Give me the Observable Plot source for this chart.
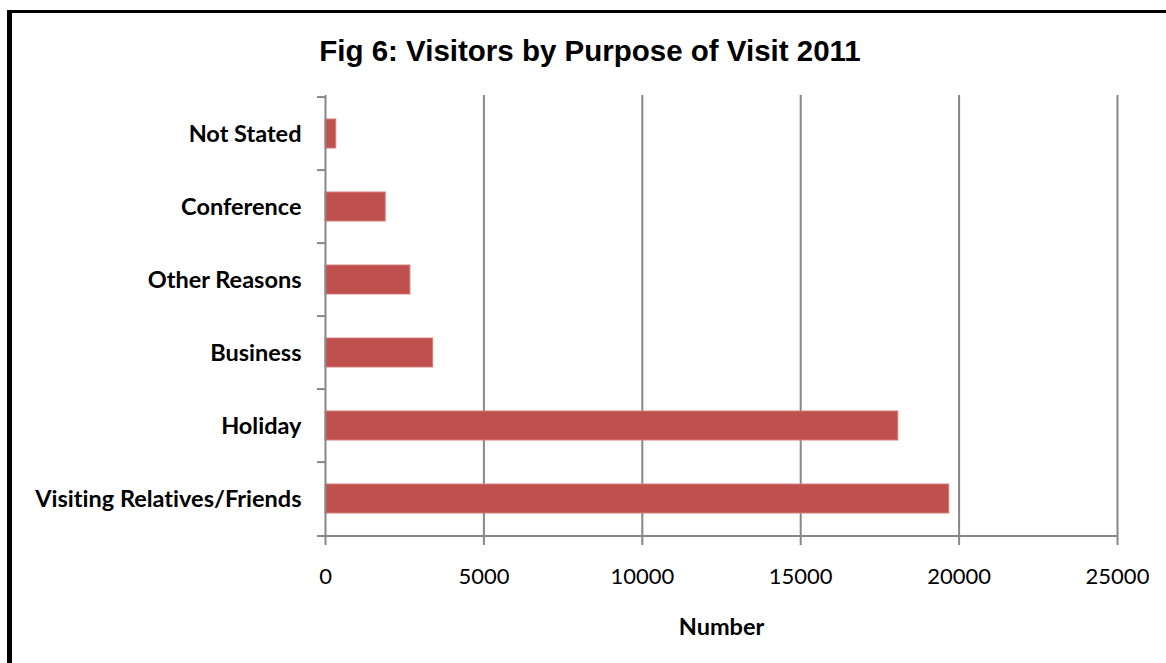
<!DOCTYPE html>
<html><head><meta charset="utf-8">
<script src="https://cdn.jsdelivr.net/npm/d3@7"></script>
<script src="https://cdn.jsdelivr.net/npm/@observablehq/plot@0.6"></script>
<style>
html,body{margin:0;padding:0;background:#fff;overflow:hidden;width:1166px;height:663px}
#wrap{position:relative;width:1166px;height:663px;background:#fff}
#frame{position:absolute;left:7px;top:10px;width:1200px;height:700px;border-left:5px solid #000;border-top:3px solid #000;box-sizing:border-box;z-index:5;pointer-events:none}
#title{position:absolute;left:0;width:1180px;top:36px;text-align:center;font:bold 29.5px "Liberation Sans",Arial,sans-serif;line-height:1;color:#000}
#chart{position:absolute;left:0;top:80px}
#chart svg{overflow:visible;font-variant-ligatures:none;font-feature-settings:"liga" 0}
</style></head>
<body>
<div id="wrap">
  <div id="title"></div>
  <div id="chart"></div>
  <div id="frame"></div>
</div>
<script>
const chartTitle = "Fig 6: Visitors by Purpose of Visit 2011";
const categories = ["Not Stated", "Conference", "Other Reasons", "Business", "Holiday", "Visiting Relatives/Friends"];
const visitors = [340, 1900, 2680, 3400, 18080, 19690];
const xTicks = [0, 5000, 10000, 15000, 20000, 25000];
const xLabel = "Number";

const data = categories.map((c, i) => ({category: c, value: visitors[i]}));

document.getElementById("title").textContent = chartTitle;

const W = 1166, H = 583, mT = 15, mB = 125, mL = 325, mR = 49;
const step = (H - mT - mB) / categories.length;
const tickUnits = 8 * (xTicks[xTicks.length - 1] - xTicks[0]) / (W - mL - mR);
const grey = "#878787";

const chart = Plot.plot({
  width: W, height: H,
  marginTop: mT, marginBottom: mB, marginLeft: mL, marginRight: mR,
  style: {fontFamily: "Lato, 'Open Sans', sans-serif", background: "transparent", color: "#000"},
  x: {domain: [xTicks[0], xTicks[xTicks.length - 1]]},
  y: {domain: categories, paddingInner: 0.6, paddingOuter: 0.3},
  marks: [
    Plot.ruleX(xTicks.slice(1), {stroke: grey, strokeWidth: 2}),
    Plot.barX(data, {x: "value", y: "category", fill: "#C0504D", stroke: "#D47E7B", strokeWidth: 1}),
    Plot.ruleX([xTicks[0]], {stroke: grey, strokeWidth: 2}),
    Plot.ruleY(categories, {y: d => d, dy: -step / 2, x1: -tickUnits, x2: 0, stroke: grey, strokeWidth: 2}),
    Plot.ruleY(categories.slice(-1), {y: d => d, dy: step / 2, x1: -tickUnits, x2: xTicks[xTicks.length - 1], stroke: grey, strokeWidth: 2}),
    Plot.axisX({ticks: xTicks, tickSize: 7, tickPadding: 23, stroke: grey, strokeWidth: 2, fontSize: 22, tickFormat: d => String(d), label: null, fill: "#000"}),
    Plot.axisY({tickSize: 0, tickPadding: 24, fontSize: 23.5, fontWeight: "bold", label: null, fill: "#000"}),
    Plot.text([xLabel], {frameAnchor: "bottom", dy: 96, fontSize: 23.5, fontWeight: "bold", fill: "#000"})
  ]
});
document.getElementById("chart").appendChild(chart);
</script>
</body></html>
